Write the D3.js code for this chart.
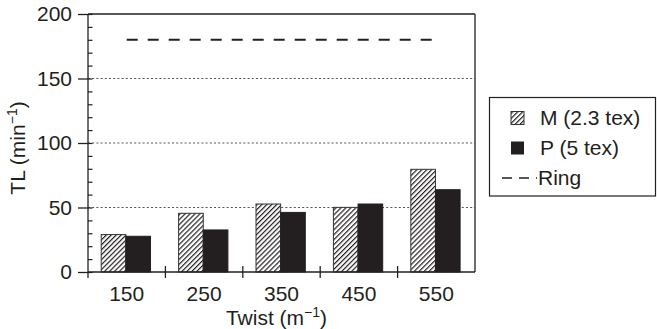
<!DOCTYPE html>
<html><head><meta charset="utf-8">
<script src="https://cdn.jsdelivr.net/npm/d3@7"></script>
<style>
body{margin:0;background:#fff;}
text{font-family:"Liberation Sans",Arial,sans-serif;fill:#231f20;}
</style></head>
<body><svg id="c" width="657" height="329"></svg>
<script>
const categories = ["150","250","350","450","550"];
const seriesNames = ["M (2.3 tex)","P (5 tex)"];
const valuesM = [29, 45.5, 52.7, 50.1, 79.6];
const valuesP = [27.7, 32.6, 46.2, 52.7, 63.8];
const ringValue = 180;
const yTicks = [0,50,100,150,200];
const yMinorTicks = d3.range(0,201,10);
const gridTicks = [50,100,150];

const svg = d3.select("#c");
const ink = "#231f20";
const L=88, R=475, T=14, B=272;
const FS = 21;

const defs = svg.append("defs");
const hp = 3.5;
const pat = defs.append("pattern").attr("id","hatch").attr("patternUnits","userSpaceOnUse")
  .attr("width",hp).attr("height",hp).attr("patternTransform","rotate(45)");
pat.append("rect").attr("width",hp).attr("height",hp).attr("fill","#fff");
pat.append("line").attr("x1",0.6).attr("y1",0).attr("x2",0.6).attr("y2",hp)
  .attr("stroke",ink).attr("stroke-width",1.2);

const x = d3.scaleBand().domain(categories).range([L,R]).paddingInner(0).paddingOuter(0);
const xs = d3.scaleBand().domain(seriesNames).range([0,x.bandwidth()]).paddingInner(0).paddingOuter(0.57).align(0.47);
const y = d3.scaleLinear().domain([0,200]).range([B,T]);

// gridlines
svg.append("g").selectAll("line").data(gridTicks).join("line")
  .attr("x1",L).attr("x2",R).attr("y1",d=>y(d)).attr("y2",d=>y(d))
  .attr("stroke","#555").attr("stroke-width",1).attr("stroke-dasharray","2,2.2");

// bars
const data = categories.map((c,i)=>({c, vals:[{s:seriesNames[0],v:valuesM[i]},{s:seriesNames[1],v:valuesP[i]}]}));
const g = svg.append("g").selectAll("g").data(data).join("g")
  .attr("transform",d=>`translate(${x(d.c)},0)`);
g.selectAll("rect").data(d=>d.vals).join("rect")
  .attr("x",d=>xs(d.s)).attr("width",xs.bandwidth())
  .attr("y",d=>y(d.v)).attr("height",d=>y(0)-y(d.v))
  .attr("fill",(d,i)=>i===0?"url(#hatch)":ink)
  .attr("stroke",(d,i)=>i===0?"#333":ink).attr("stroke-width",1);

// ring line
svg.append("line")
  .attr("x1",x(categories[0])+x.bandwidth()/2).attr("x2",x(categories[categories.length-1])+x.bandwidth()/2)
  .attr("y1",y(ringValue)).attr("y2",y(ringValue))
  .attr("stroke",ink).attr("stroke-width",2).attr("stroke-dasharray","11,10");

// frame
svg.append("line").attr("x1",L).attr("x2",R).attr("y1",T).attr("y2",T).attr("stroke",ink).attr("stroke-width",1.3);
svg.append("line").attr("x1",R).attr("x2",R).attr("y1",T).attr("y2",B).attr("stroke",ink).attr("stroke-width",1.3);

// y axis major
const ya = svg.append("g").attr("transform",`translate(${L},0)`)
  .call(d3.axisLeft(y).tickValues(yTicks).tickSize(10).tickPadding(6).tickSizeOuter(0));
ya.select(".domain").remove();
ya.selectAll(".tick line").attr("stroke",ink).attr("stroke-width",1.3);
ya.selectAll(".tick text").attr("font-size",FS).attr("font-family","Liberation Sans, Arial, sans-serif").attr("fill",ink);
// y minor inside
const ym = svg.append("g").attr("transform",`translate(${L},0)`)
  .call(d3.axisRight(y).tickValues(yMinorTicks).tickSize(4.5).tickFormat(""));
ym.select(".domain").remove();
ym.selectAll(".tick line").attr("stroke",ink).attr("stroke-width",1.2);
svg.append("line").attr("x1",L).attr("x2",L).attr("y1",T).attr("y2",B+6).attr("stroke",ink).attr("stroke-width",1.3);

// x axis
svg.append("line").attr("x1",L).attr("x2",R).attr("y1",B).attr("y2",B).attr("stroke",ink).attr("stroke-width",1.3);
const xa = svg.append("g").attr("transform",`translate(0,${B})`)
  .call(d3.axisBottom(x).tickSize(0).tickPadding(14));
xa.select(".domain").remove();
xa.selectAll(".tick text").attr("font-size",FS).attr("font-family","Liberation Sans, Arial, sans-serif").attr("fill",ink);
svg.append("g").selectAll("line").data(categories.slice(1)).join("line")
  .attr("x1",d=>x(d)).attr("x2",d=>x(d)).attr("y1",B-6).attr("y2",B+6)
  .attr("stroke",ink).attr("stroke-width",1.3);

// axis titles
const xt = svg.append("text").attr("x",(L+R)/2-5).attr("y",325).attr("text-anchor","middle").attr("font-size",FS);
xt.append("tspan").text("Twist (m");
xt.append("tspan").text("−1").attr("font-size",14).attr("dy",-8);
xt.append("tspan").text(")").attr("dy",8);

const yt = svg.append("text").attr("transform",`translate(25,${(T+B)/2+5}) rotate(-90)`).attr("text-anchor","middle").attr("font-size",FS);
yt.append("tspan").text("TL (min");
yt.append("tspan").text("−1").attr("font-size",14).attr("dy",-8);
yt.append("tspan").text(")").attr("dy",8);

// legend
const lg = svg.append("g");
lg.append("rect").attr("x",489.5).attr("y",97.5).attr("width",166).attr("height",98.5)
  .attr("fill","#fff").attr("stroke",ink).attr("stroke-width",1.2);
const legItems = [{name:seriesNames[0],type:"hatch"},{name:seriesNames[1],type:"solid"},{name:"Ring",type:"dash"}];
legItems.forEach((d,i)=>{
  const by = 125 + i*30;
  if(d.type==="hatch"){
    lg.append("rect").attr("x",511).attr("y",by-13.5).attr("width",13).attr("height",13).attr("fill","url(#hatch)").attr("stroke","#333").attr("stroke-width",1);
  } else if(d.type==="solid"){
    lg.append("rect").attr("x",511).attr("y",by-13.5).attr("width",13).attr("height",13).attr("fill",ink);
  } else {
    lg.append("line").attr("x1",502).attr("x2",537).attr("y1",by-7).attr("y2",by-7)
      .attr("stroke",ink).attr("stroke-width",1.6).attr("stroke-dasharray","10,7");
  }
  lg.append("text").attr("x",d.type==="dash"?538:540).attr("y",by).attr("font-size",FS).text(d.name);
});
</script></body></html>
